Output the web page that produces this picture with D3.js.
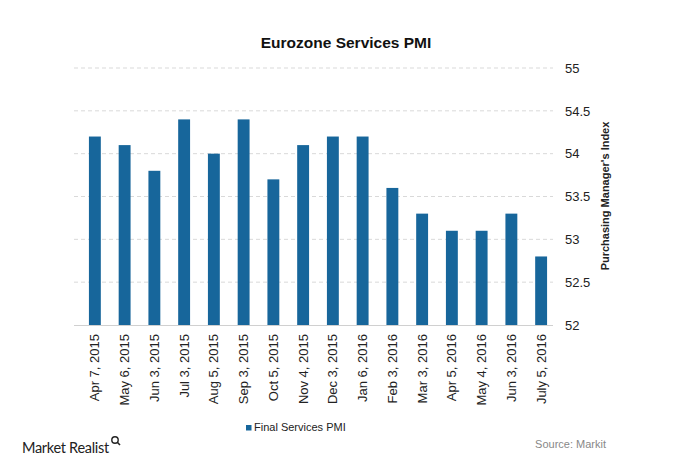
<!DOCTYPE html>
<html><head><meta charset="utf-8">
<script src="https://cdn.jsdelivr.net/npm/d3@7"></script>
<style>body{margin:0;background:#fff;}svg{display:block;font-family:"Liberation Sans",Arial,sans-serif;}</style>
</head><body>
<svg id="c" width="680" height="466"></svg>
<script>
const categories = ["Apr 7, 2015","May 6, 2015","Jun 3, 2015","Jul 3, 2015","Aug 5, 2015","Sep 3, 2015","Oct 5, 2015","Nov 4, 2015","Dec 3, 2015","Jan 6, 2016","Feb 3, 2016","Mar 3, 2016","Apr 5, 2016","May 4, 2016","Jun 3, 2016","July 5, 2016"];
const pmiValues = [54.2,54.1,53.8,54.4,54.0,54.4,53.7,54.1,54.2,54.2,53.6,53.3,53.1,53.1,53.3,52.8];
const yTicks = [52,52.5,53,53.5,54,54.5,55];
const seriesName = "Final Services PMI";

const svg = d3.select("#c");
const x = d3.scaleBand().domain(categories).range([80,556]).paddingInner(0.6).paddingOuter(0.3);
const y = d3.scaleLinear().domain([52,55]).range([325,68]);
const barColor = "#17669b";

svg.append("text").attr("x",346).attr("y",48).attr("text-anchor","middle")
  .attr("font-size",15.5).attr("font-weight","bold").attr("fill","#111").text("Eurozone Services PMI");

// grid
svg.append("g").selectAll("line").data(yTicks.filter(d=>d>52)).join("line")
  .attr("x1",74).attr("x2",553).attr("y1",d=>y(d)).attr("y2",d=>y(d))
  .attr("stroke","#d9d9d9").attr("stroke-dasharray","4,3");

// bars
svg.append("g").selectAll("rect").data(pmiValues).join("rect")
  .attr("x",(d,i)=>x(categories[i])).attr("width",x.bandwidth())
  .attr("y",d=>y(d)).attr("height",d=>y(52)-y(d)).attr("fill",barColor);

// baseline
svg.append("line").attr("x1",74).attr("x2",553).attr("y1",y(52)+0.5).attr("y2",y(52)+0.5).attr("stroke","#d0d0d0");

// right axis
const yAxis = d3.axisRight(y).tickValues(yTicks).tickSize(0).tickPadding(0).tickFormat(d3.format("~g"));
const ga = svg.append("g").attr("transform","translate(565,0)").call(yAxis);
ga.select(".domain").remove();
ga.selectAll("text").attr("font-size",13).attr("fill","#222").attr("font-family","Liberation Sans, Arial, sans-serif");

svg.append("text").attr("transform","translate(609,196) rotate(-90)").attr("text-anchor","middle")
  .attr("font-size",11).attr("font-weight","bold").attr("fill","#222").text("Purchasing Manager's Index");

// x axis
const xAxis = d3.axisBottom(x).tickSize(0).tickPadding(0);
const gx = svg.append("g").attr("transform","translate(0,325)").call(xAxis);
gx.select(".domain").remove();
gx.selectAll("text").attr("font-size",13).attr("fill","#222").attr("font-family","Liberation Sans, Arial, sans-serif")
  .attr("transform","rotate(-90)").attr("text-anchor","end").attr("x",-9).attr("y",0).attr("dy","0.35em");

// legend
svg.append("rect").attr("x",246).attr("y",425).attr("width",5.5).attr("height",5.5).attr("fill",barColor);
svg.append("text").attr("x",254).attr("y",431).attr("font-size",11).attr("fill","#222").text(seriesName);

// footer logo
svg.append("text").attr("x",22).attr("y",453).attr("font-size",14.5).attr("fill","#222")
  .attr("font-family","Lato, 'Open Sans', sans-serif").attr("letter-spacing","-0.3").text("Market Realist");
const mag = svg.append("g").attr("transform","translate(115,440)");
mag.append("circle").attr("r",3.2).attr("fill","none").attr("stroke","#222").attr("stroke-width",1.4);
mag.append("line").attr("x1",2.3).attr("y1",2.3).attr("x2",5).attr("y2",5).attr("stroke","#222").attr("stroke-width",1.6);
svg.append("text").attr("x",606).attr("y",448).attr("text-anchor","end").attr("font-size",11).attr("fill","#888").text("Source: Markit");
</script>
</body></html>
